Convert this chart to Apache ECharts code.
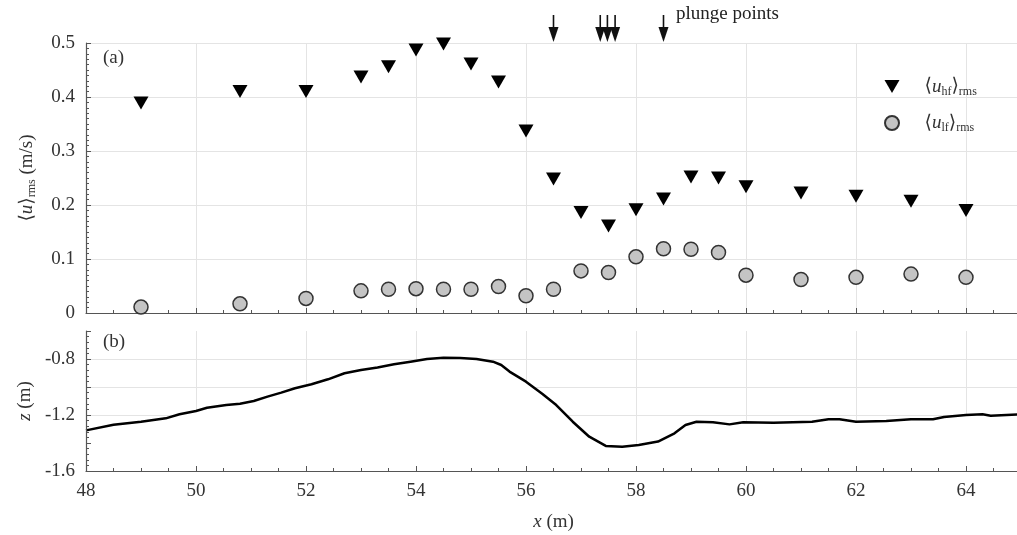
<!DOCTYPE html>
<html>
<head>
<meta charset="utf-8">
<script src="https://cdn.jsdelivr.net/npm/echarts@6/dist/echarts.min.js"></script>
<style>
html,body{margin:0;padding:0;background:#fff;}
#c{width:1017px;height:535px;}
</style>
</head>
<body>
<div id="c"></div>
<script>
// ---- data ----
const stationX = [49, 50.8, 52, 53, 53.5, 54, 54.5, 55, 55.5, 56, 56.5, 57, 57.5, 58, 58.5, 59, 59.5, 60, 61, 62, 63, 64];
const uHf = [0.389, 0.410, 0.410, 0.437, 0.456, 0.487, 0.498, 0.461, 0.428, 0.337, 0.248, 0.186, 0.161, 0.191, 0.211, 0.252, 0.250, 0.234, 0.222, 0.216, 0.207, 0.190];
const uLf = [0.011, 0.017, 0.027, 0.041, 0.044, 0.045, 0.044, 0.044, 0.049, 0.032, 0.044, 0.078, 0.075, 0.104, 0.119, 0.118, 0.112, 0.070, 0.062, 0.066, 0.072, 0.066];
const plungeX = [56.5, 57.35, 57.48, 57.62, 58.5];
const bedX = [48, 48.5, 49, 49.45, 49.7, 50, 50.2, 50.55, 50.8, 51.05, 51.3, 51.55, 51.8, 52.1, 52.4, 52.7, 53, 53.3, 53.6, 53.9, 54.2, 54.5, 54.8, 55.1, 55.4, 55.55, 55.7, 56, 56.3, 56.55, 56.85, 57.15, 57.45, 57.75, 58.05, 58.4, 58.7, 58.9, 59.1, 59.4, 59.7, 59.95, 60.5, 61.2, 61.5, 61.7, 62, 62.55, 63, 63.4, 63.6, 64, 64.3, 64.45, 65];
const bedZ = [-1.31, -1.27, -1.248, -1.224, -1.195, -1.171, -1.148, -1.129, -1.119, -1.10, -1.069, -1.04, -1.009, -0.98, -0.945, -0.902, -0.879, -0.86, -0.838, -0.819, -0.80, -0.791, -0.793, -0.80, -0.819, -0.843, -0.89, -0.962, -1.05, -1.129, -1.248, -1.355, -1.421, -1.426, -1.414, -1.39, -1.331, -1.271, -1.248, -1.252, -1.267, -1.252, -1.255, -1.248, -1.231, -1.231, -1.248, -1.243, -1.231, -1.231, -1.214, -1.20, -1.195, -1.205, -1.195];
const xTicks = [48, 65, 2];
const yTicksA = [0, 0.5, 0.1];
const yTicksB = [-1.6, -0.6, 0.2];
const yLabelsB = ['-0.8', '-1.2', '-1.6'];
const legendNames = {hf: '{a|⟨}{i|u}{s|hf}{a|⟩}{s|rms}', lf: '{a|⟨}{i|u}{s|lf}{a|⟩}{s|rms}'};

const FF = '"Liberation Serif","DejaVu Serif",serif';
const TXT = '#333';
const AX = '#555';
const GRID = '#e4e4e4';
const rich = {
  a: {fontFamily: FF, fontSize: 19, color: TXT, lineHeight: 22},
  i: {fontFamily: FF, fontSize: 19, fontStyle: 'italic', color: TXT, lineHeight: 22},
  s: {fontFamily: FF, fontSize: 12, color: TXT, lineHeight: 12, verticalAlign: 'bottom'},
  g: {width: 20}
};

const chart = echarts.init(document.getElementById('c'), null, {renderer: 'canvas'});

const baseX = {
  type: 'value', min: xTicks[0], max: xTicks[1], interval: xTicks[2], position: 'bottom',
  axisLine: {show: true, lineStyle: {color: AX, width: 1.2}},
  axisTick: {show: true, inside: true, length: 5, lineStyle: {color: AX}},
  minorTick: {show: true, splitNumber: 4, length: 3, lineStyle: {color: AX}},
  splitLine: {show: false}
};

const option = {
  animation: false,
  backgroundColor: '#fff',
  grid: [
    {left: 86, top: 43, width: 935, height: 270, outerBoundsMode: 'none', containLabel: false},
    {left: 86, top: 331, width: 935, height: 140, outerBoundsMode: 'none', containLabel: false}
  ],
  xAxis: [
    Object.assign({}, baseX, {gridIndex: 0, axisLabel: {show: false},
      splitLine: {show: true, lineStyle: {color: GRID, width: 1}}}),
    {type: 'value', gridIndex: 1, position: 'bottom', min: xTicks[0], max: xTicks[1], interval: xTicks[2], z: 0,
      axisLine: {show: false}, axisTick: {show: false}, axisLabel: {show: false},
      splitLine: {show: true, lineStyle: {color: GRID, width: 1}}},
    Object.assign({}, baseX, {gridIndex: 1, z: 10,
      axisLabel: {show: true, showMaxLabel: false, margin: 11, fontFamily: FF, fontSize: 19, color: TXT},
      name: '{i|x}{a| (m)}', nameLocation: 'middle', nameGap: 40,
      nameTextStyle: {rich: rich}})
  ],
  yAxis: [
    {type: 'value', gridIndex: 0, position: 'left', min: yTicksA[0], max: yTicksA[1], interval: yTicksA[2],
      axisLine: {show: true, lineStyle: {color: AX, width: 1.2}},
      axisTick: {show: true, inside: true, length: 5, lineStyle: {color: AX}},
      minorTick: {show: true, splitNumber: 10, length: 3, lineStyle: {color: AX}},
      splitLine: {show: true, lineStyle: {color: GRID, width: 1}},
      axisLabel: {margin: 11, fontFamily: FF, fontSize: 19, color: TXT},
      name: '{a|⟨}{i|u}{a|⟩}{s|rms}{a| (m/s)}', nameLocation: 'middle', nameGap: 48, nameRotate: 90,
      nameTextStyle: {rich: rich}},
    {type: 'value', gridIndex: 1, position: 'left', min: yTicksB[0], max: yTicksB[1], interval: yTicksB[2], z: 0,
      axisLine: {show: false}, axisTick: {show: false}, axisLabel: {show: false},
      splitLine: {show: true, lineStyle: {color: ['rgba(0,0,0,0)', 'rgba(0,0,0,0)', GRID, GRID, GRID, 'rgba(0,0,0,0)'], width: 1}}},
    {type: 'value', gridIndex: 1, position: 'left', min: yTicksB[0], max: yTicksB[1], interval: yTicksB[2], z: 10,
      axisLine: {show: true, lineStyle: {color: AX, width: 1.2}},
      axisTick: {show: true, inside: true, length: 5, lineStyle: {color: AX}},
      minorTick: {show: true, splitNumber: 5, length: 3, lineStyle: {color: AX}},
      splitLine: {show: false},
      axisLabel: {margin: 11, fontFamily: FF, fontSize: 19, color: TXT,
        formatter: function (v) { const s = v.toFixed(1); return yLabelsB.indexOf(s) >= 0 ? s : ''; }},
      name: '{i|z}{a| (m)}', nameLocation: 'middle', nameGap: 48, nameRotate: 90,
      nameTextStyle: {rich: rich}}
  ],
  legend: {
    orient: 'vertical', left: 879, top: 72, itemWidth: 15, itemHeight: 14, itemGap: 16,
    data: [
      {name: 'hf', icon: 'path://M0,0L15,0L7.5,13Z', itemStyle: {color: '#000'}},
      {name: 'lf'}
    ],
    formatter: function (n) { return '{g|}' + legendNames[n]; },
    textStyle: {fontFamily: FF, fontSize: 19, color: TXT, rich: rich}
  },
  graphic: [
    {type: 'text', left: 103, top: 49, style: {text: '(a)', font: '19px ' + FF, fill: TXT}},
    {type: 'text', left: 103, top: 333, style: {text: '(b)', font: '19px ' + FF, fill: TXT}},
    {type: 'text', left: 676, top: 5, style: {text: 'plunge points', font: '19px ' + FF, fill: '#222'}}
  ],
  series: [
    {name: 'hf', type: 'scatter', xAxisIndex: 0, yAxisIndex: 0,
      symbol: 'triangle', symbolRotate: 180, symbolSize: [15, 13],
      itemStyle: {color: '#000', opacity: 1},
      data: stationX.map((x, i) => [x, uHf[i]]), z: 5},
    {name: 'lf', type: 'scatter', xAxisIndex: 0, yAxisIndex: 0,
      symbol: 'circle', symbolSize: 14,
      itemStyle: {color: '#c4c4c4', borderColor: '#333', borderWidth: 1.5, opacity: 1},
      data: stationX.map((x, i) => [x, uLf[i]]), z: 5},
    {name: 'plunge', type: 'custom', xAxisIndex: 0, yAxisIndex: 0, clip: false, z: 6,
      data: plungeX.map(x => [x, yTicksA[1]]),
      renderItem: function (params, api) {
        const p = api.coord([api.value(0), api.value(1)]);
        const tip = p[1] - 1;
        return {type: 'group', children: [
          {type: 'line', shape: {x1: p[0], y1: tip - 27, x2: p[0], y2: tip - 12},
            style: {stroke: '#111', lineWidth: 1.6}},
          {type: 'polygon', shape: {points: [[p[0] - 5, tip - 15], [p[0] + 5, tip - 15], [p[0], tip]]},
            style: {fill: '#111'}}
        ]};
      }},
    {name: 'bed', type: 'line', xAxisIndex: 1, yAxisIndex: 1, symbol: 'none', z: 3,
      lineStyle: {color: '#000', width: 2.5},
      areaStyle: {color: '#fff', opacity: 1, origin: 'start'},
      data: bedX.map((x, i) => [x, bedZ[i]])}
  ]
};
chart.setOption(option);
</script>
</body>
</html>
